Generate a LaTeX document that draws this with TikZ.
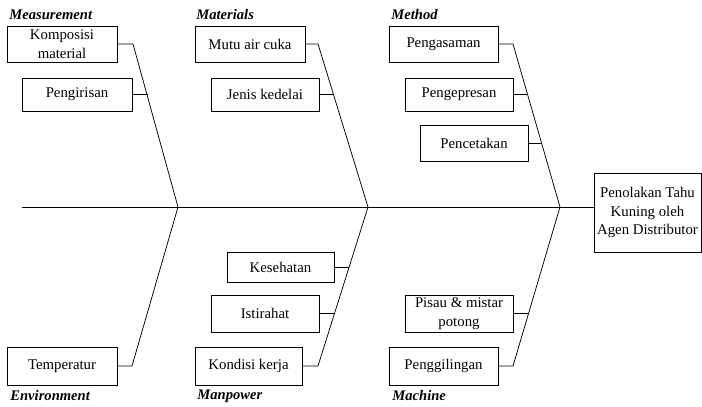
\documentclass[tikz,border=0pt]{standalone}
\usepackage{fontspec}
\setmainfont{Liberation Serif}
\begin{document}
\begin{tikzpicture}[x=1pt,y=-1pt,
  line width=0.75pt,
  box/.style={draw, line width=0.8pt, inner sep=0pt, align=center, font=\fontsize{14.8}{18.6}\selectfont},
  cat/.style={anchor=west, inner sep=0pt, font=\fontsize{14.6}{16}\selectfont\bfseries\itshape}]
\useasboundingbox (0,0) rectangle (702,407);
% boxes
\node[box, minimum width=110pt, minimum height=36pt] (m1) at (62,44) {Komposisi\\material};
\node[box, minimum width=110pt, minimum height=33pt] (m2) at (77,94.5) {Pengirisan};
\node[box, minimum width=110pt, minimum height=36pt] (a1) at (250,44) {Mutu air cuka};
\node[box, minimum width=108pt, minimum height=33pt] (a2) at (265,94.5) {Jenis kedelai};
\node[box, minimum width=109pt, minimum height=36pt] (t1) at (443.5,44) {Pengasaman};
\node[box, minimum width=108pt, minimum height=33pt] (t2) at (459,94.5) {Pengepresan};
\node[box, minimum width=108pt, minimum height=36pt] (t3) at (474,143) {Pencetakan};
\node[box, minimum width=110pt, minimum height=38pt] (e1) at (62,366) {Temperatur};
\node[box, minimum width=107pt, minimum height=30pt] (p1) at (280.5,267) {Kesehatan};
\node[box, minimum width=108pt, minimum height=37pt] (p2) at (265,313.5) {Istirahat};
\node[box, minimum width=107pt, minimum height=38pt] (p3) at (248.5,366) {Kondisi kerja};
\node[box, minimum width=108pt, minimum height=37pt] (c1) at (459,313.5) {Pisau \& mistar\\potong};
\node[box, minimum width=109pt, minimum height=38pt] (c2) at (443.5,366) {Penggilingan};
\node[box, minimum width=107pt, minimum height=79pt] (eff) at (647.5,212.5) {Penolakan Tahu\\Kuning oleh\\Agen Distributor};
% category labels
\node[cat] (lm) at (9,15) {Measurement};
\node[cat] (la) at (196,15) {Materials};
\node[cat] (lt) at (391,15) {Method};
\node[cat] (le) at (10,396) {Environment};
\node[cat] (lp) at (197,396) {Manpower};
\node[cat] (lc) at (392,396) {Machine};
% bone coordinates
\coordinate (s0) at (22,207);
\coordinate (jM) at (178,207);
\coordinate (jA) at (368,207);
\coordinate (jT) at (560,207);
\coordinate (Mtop) at (133,44);
\coordinate (Atop) at (318,44);
\coordinate (Ttop) at (513,44);
\coordinate (Ebot) at (132,366);
\coordinate (Pbot) at (318,366);
\coordinate (Cbot) at (513,366);
\coordinate (m2x) at (147.5,94.5);
\coordinate (a2x) at (334,94.5);
\coordinate (t2x) at (528,94.5);
\coordinate (t3x) at (541.8,143);
\coordinate (p1x) at (349.4,267);
\coordinate (p2x) at (334.9,313.5);
\coordinate (c1x) at (528.9,313.5);
% spine
\draw (s0) -- (s0 -| eff.west);
% bones
\draw (m1.east) -- (Mtop) -- (jM);
\draw (a1.east) -- (Atop) -- (jA);
\draw (t1.east) -- (Ttop) -- (jT);
\draw (e1.east) -- (Ebot) -- (jM);
\draw (p3.east) -- (Pbot) -- (jA);
\draw (c2.east) -- (Cbot) -- (jT);
% sub connectors
\draw (m2.east) -- (m2x);
\draw (a2.east) -- (a2x);
\draw (t2.east) -- (t2x);
\draw (t3.east) -- (t3x);
\draw (p1.east) -- (p1x);
\draw (p2.east) -- (p2x);
\draw (c1.east) -- (c1x);
\end{tikzpicture}
\end{document}
